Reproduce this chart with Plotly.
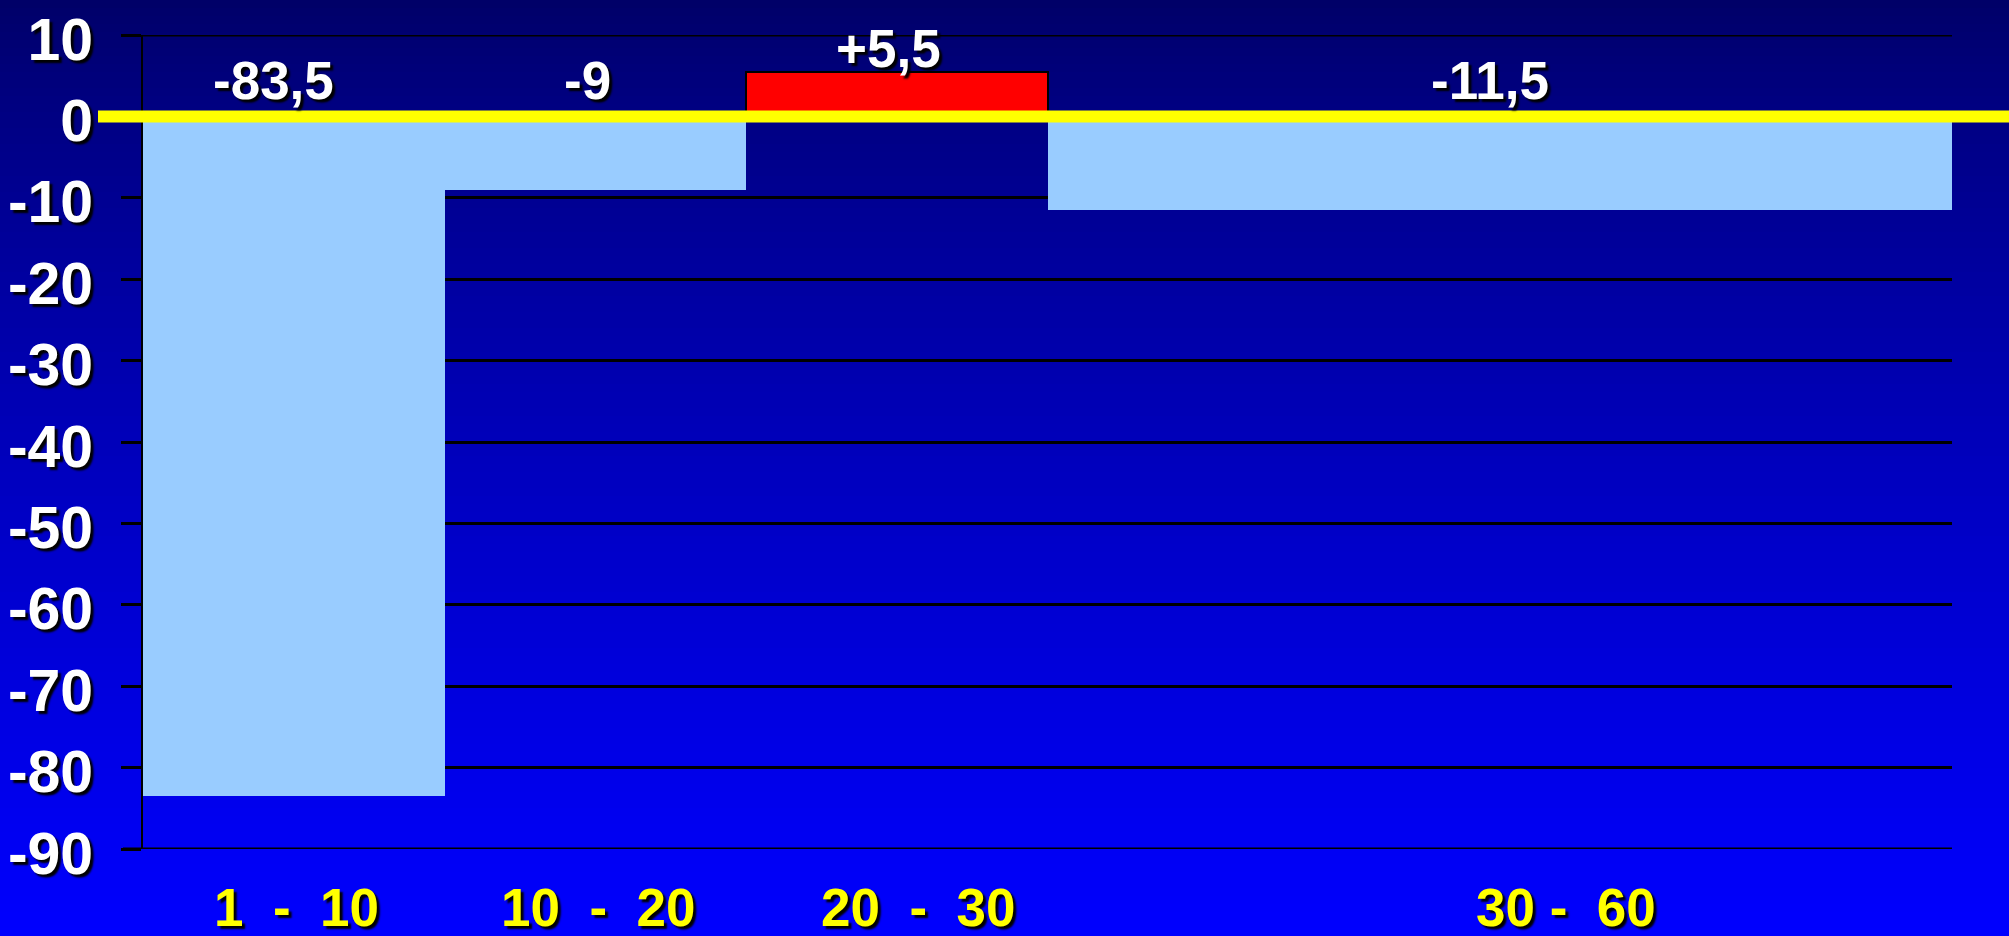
import plotly.graph_objects as go

# Interval bins (lower / upper bound) and the change measured in each
bin_low = [0, 10, 20, 30]
bin_high = [10, 20, 30, 60]
changes = [-83.5, -9, 5.5, -11.5]
value_labels = ["-83,5", "-9", "+5,5", "-11,5"]
bin_labels = ["1\u00a0\u00a0-\u00a0\u00a010", "10\u00a0\u00a0-\u00a0\u00a020",
              "20\u00a0\u00a0-\u00a0\u00a030", "30\u00a0-\u00a0\u00a060"]
bin_label_x = [5.1, 15.1, 25.7, 47.2]
value_label_shift = [-20, -8, -8, -10]
y_ticks = [10, 0, -10, -20, -30, -40, -50, -60, -70, -80, -90]

W, H = 2009, 936
ML, MR, MT, MB = 143, 57, 35, 87
plot_w = W - ML - MR
plot_h = H - MT - MB

centers = [(a + b) / 2 for a, b in zip(bin_low, bin_high)]
widths = [b - a for a, b in zip(bin_low, bin_high)]
colors = ["#FF0000" if v > 0 else "#99CCFF" for v in changes]
line_w = [2 if v > 0 else 0 for v in changes]

FONT = "Liberation Sans, Arial, sans-serif"
SHADOW = "3px 3px 2px #000000"

fig = go.Figure()
fig.add_trace(go.Bar(
    x=centers, y=changes, width=widths, base=0,
    marker=dict(color=colors, line=dict(color="black", width=line_w)),
    hoverinfo="skip", showlegend=False,
))

# vertical background gradient, dark navy at the top to bright blue at the bottom
shapes = []
n_strips = 117
strip = H / n_strips
for i in range(n_strips):
    y_top = i * strip
    y_bot = (i + 1) * strip + 0.6
    t = (y_top + strip / 2) / H
    b = int(round(102 + 153 * t ** 0.8))
    shapes.append(dict(
        type="rect", xref="paper", yref="paper", layer="below",
        x0=-ML / plot_w - 0.01, x1=1 + MR / plot_w + 0.01,
        y0=(H - MB - y_bot) / plot_h, y1=(H - MB - y_top) / plot_h,
        fillcolor=f"rgb(0,0,{b})", line=dict(width=0),
    ))

# grid lines on the two range ends (top and bottom of the value axis)
for yv in (y_ticks[0], y_ticks[-1]):
    shapes.append(dict(
        type="line", xref="paper", yref="y", layer="below",
        x0=-20 / plot_w, x1=1, y0=yv, y1=yv,
        line=dict(color="black", width=3),
    ))

# yellow zero line running across the full width
shapes.append(dict(
    type="line", xref="paper", yref="y",
    x0=(98 - ML) / plot_w, x1=1 + MR / plot_w + 0.01, y0=0, y1=0,
    line=dict(color="#FFFF00", width=12),
))

annotations = []
for c, v, txt, dx in zip(centers, changes, value_labels, value_label_shift):
    annotations.append(dict(
        x=c, y=(v + 2.9) if v > 0 else 4.35, xref="x", yref="y",
        text=txt, showarrow=False, xanchor="center", yanchor="middle", xshift=dx,
        font=dict(family=FONT, size=53, color="white", weight="bold", shadow=SHADOW),
    ))
for lx, txt in zip(bin_label_x, bin_labels):
    annotations.append(dict(
        x=lx, y=-(907 - (H - MB)) / plot_h, xref="x", yref="paper",
        text=txt, showarrow=False, xanchor="center", yanchor="middle",
        font=dict(family=FONT, size=53, color="#FFFF00", weight="bold", shadow=SHADOW),
    ))

fig.update_layout(
    width=W, height=H,
    margin=dict(l=ML, r=MR, t=MT, b=MB, pad=0, autoexpand=False),
    paper_bgcolor="#000080", plot_bgcolor="rgba(0,0,0,0)",
    shapes=shapes, annotations=annotations,
    bargap=0,
    xaxis=dict(range=[0, 60], showticklabels=False, showgrid=False, automargin=False,
               zeroline=False, showline=False, ticks=""),
    yaxis=dict(range=[-90, 10], tickvals=y_ticks, ticktext=[str(t) for t in y_ticks],
               automargin=False,
               showgrid=True, gridcolor="black", gridwidth=3,
               zeroline=False, showline=True, linecolor="black", linewidth=2,
               ticks="outside", ticklen=20, tickwidth=3, tickcolor="black",
               ticklabelstandoff=16, ticklabelshift=4,
               tickfont=dict(family=FONT, size=59, color="white", weight="bold", shadow=SHADOW)),
)

fig.write_html("out.html")
